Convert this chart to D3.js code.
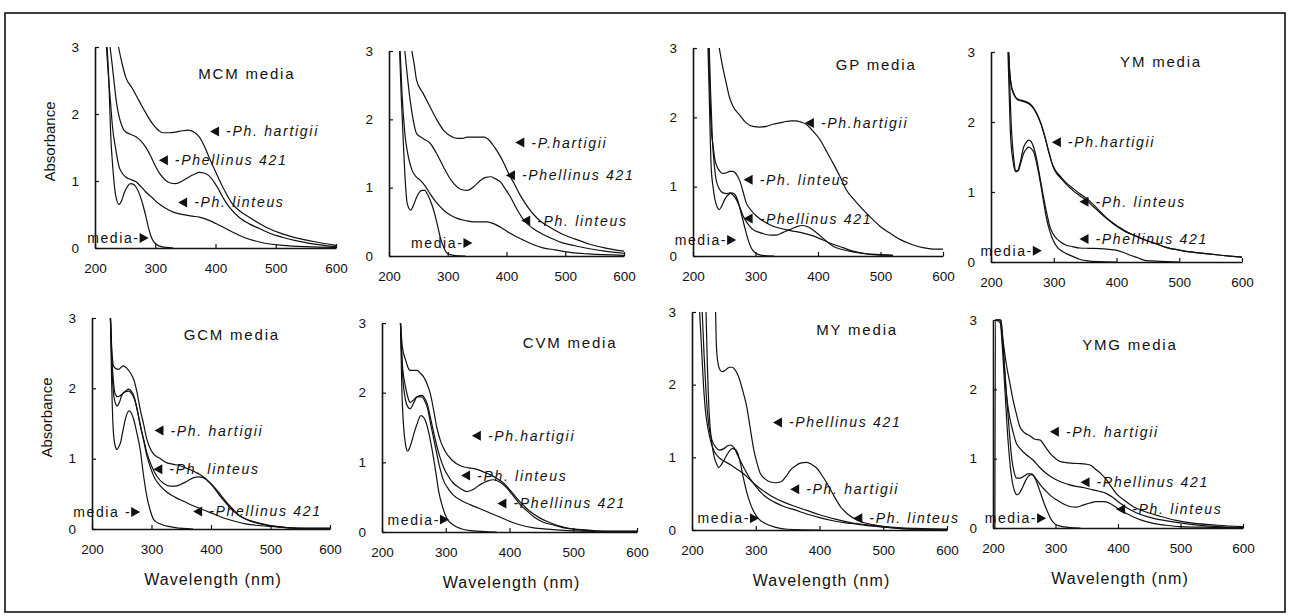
<!DOCTYPE html>
<html>
<head>
<meta charset="utf-8">
<script src="https://cdn.jsdelivr.net/npm/d3@7"></script>
<style>
  html, body { margin: 0; padding: 0; background: #fff; }
  svg { display: block; }
</style>
</head>
<body>
<svg id="chart" width="1290" height="616"></svg>
<script>
// Absorbance spectra of culture filtrates, [wavelength nm, absorbance]
const xTicks = [200, 300, 400, 500, 600];
const yTicks = [0, 1, 2, 3];

// MCM media
const mcmHartigii = [[239,3],[245,2.75],[251,2.55],[262,2.38],[273,2.2],[284,2.02],[295,1.86],[305,1.76],[312,1.72],[322,1.72],[334,1.73],[345,1.75],[356,1.76],[366,1.72],[373,1.66],[381,1.53],[389,1.36],[400,1.14],[412,0.91],[428,0.66],[442,0.54],[456,0.46],[470,0.38],[484,0.31],[511,0.21],[539,0.14],[567,0.09],[600,0.04]];
const mcmP421 = [[225,3],[229,2.7],[232,2.45],[236,2.15],[240,1.96],[244,1.84],[248,1.76],[258,1.7],[268,1.66],[276,1.6],[284,1.51],[292,1.38],[301,1.21],[309,1.09],[317,1.01],[325,0.97],[334,0.96],[345,1.0],[356,1.06],[365,1.1],[373,1.13],[381,1.12],[389,1.08],[398,0.98],[406,0.86],[414,0.73],[423,0.61],[439,0.46],[456,0.36],[473,0.29],[490,0.22],[511,0.16],[533,0.11],[556,0.07],[600,0.02]];
const mcmLinteus = [[219,3],[222,2.6],[226,2.15],[229,1.81],[234,1.5],[240,1.21],[245,1.12],[251,1.06],[260,1.02],[268,0.99],[276,0.92],[284,0.84],[295,0.75],[306,0.66],[318,0.59],[329,0.54],[340,0.51],[351,0.49],[362,0.475],[373,0.46],[384,0.43],[395,0.39],[406,0.34],[417,0.29],[428,0.24],[439,0.19],[456,0.13],[473,0.09],[490,0.06],[511,0.04],[550,0.02],[600,0.01]];
const mcmMedia = [[220,3],[223,2.5],[226,1.7],[230,1.15],[234,0.8],[240,0.65],[244,0.7],[248,0.81],[254,0.92],[259,0.96],[264,0.95],[268,0.91],[274,0.8],[279,0.66],[285,0.45],[290,0.26],[295,0.13],[301,0.06],[310,0.02],[330,0.0]];

// second panel (untitled)
const p2Hartigii = [[239,3],[243,2.8],[247,2.57],[258,2.38],[270,2.18],[281,2.0],[293,1.84],[304,1.76],[316,1.72],[325,1.72],[333,1.74],[345,1.74],[362,1.74],[371,1.69],[379,1.6],[388,1.48],[396,1.35],[404,1.2],[413,1.06],[424,0.88],[436,0.72],[447,0.6],[459,0.5],[476,0.41],[493,0.33],[516,0.25],[539,0.18],[567,0.12],[600,0.07]];
const p2P421 = [[227,3],[231,2.65],[236,2.28],[241,2.0],[247,1.79],[258,1.72],[270,1.65],[281,1.5],[293,1.3],[304,1.13],[316,1.01],[324,0.97],[333,0.96],[345,1.02],[356,1.11],[365,1.15],[373,1.16],[381,1.13],[390,1.08],[398,0.98],[407,0.86],[418,0.68],[430,0.52],[444,0.41],[459,0.33],[476,0.26],[493,0.2],[516,0.15],[539,0.11],[567,0.07],[600,0.04]];
const p2Linteus = [[219,3],[222,2.4],[227,1.79],[233,1.45],[239,1.26],[246,1.16],[253,1.11],[262,1.02],[270,0.91],[281,0.78],[293,0.67],[304,0.6],[316,0.55],[330,0.52],[345,0.5],[356,0.5],[367,0.5],[379,0.47],[390,0.42],[401,0.36],[413,0.3],[427,0.24],[442,0.18],[462,0.12],[482,0.09],[510,0.05],[539,0.03],[600,0.01]];
const p2Media = [[218,3],[221,2.3],[225,1.55],[228,1.05],[231,0.77],[237,0.67],[242,0.75],[247,0.86],[256,0.96],[261,0.96],[265,0.91],[270,0.82],[276,0.67],[282,0.47],[287,0.28],[293,0.13],[299,0.04],[310,0.01],[330,0]];

// GP media
const gpHartigii = [[242,3],[247,2.75],[253,2.5],[258,2.3],[264,2.16],[275,2.03],[285,1.92],[296,1.87],[307,1.86],[317,1.87],[328,1.9],[339,1.92],[349,1.94],[357,1.95],[365,1.95],[373,1.93],[381,1.9],[392,1.8],[403,1.68],[413,1.52],[424,1.34],[435,1.15],[445,0.96],[459,0.8],[472,0.67],[485,0.55],[499,0.43],[515,0.33],[531,0.24],[549,0.17],[568,0.12],[584,0.1],[600,0.1]];
const gpLinteus = [[225,3],[227,2.4],[229,1.87],[232,1.6],[235,1.39],[239,1.28],[243,1.22],[248,1.19],[253,1.2],[259,1.22],[264,1.22],[270,1.17],[275,1.08],[280,0.93],[285,0.77],[293,0.66],[301,0.58],[315,0.49],[328,0.43],[344,0.39],[360,0.36],[376,0.33],[392,0.29],[408,0.23],[424,0.17],[440,0.12],[456,0.07],[472,0.04],[488,0.02],[520,0.01]];
const gpP421 = [[226,3],[228,2.4],[231,1.68],[234,1.32],[237,1.1],[242,0.97],[248,0.91],[254,0.9],[259,0.91],[264,0.88],[269,0.82],[275,0.7],[280,0.58],[288,0.46],[296,0.38],[306,0.34],[317,0.31],[325,0.3],[333,0.3],[344,0.34],[355,0.38],[365,0.42],[376,0.44],[386,0.41],[397,0.34],[410,0.24],[424,0.14],[440,0.09],[456,0.06],[478,0.03],[499,0.02],[520,0.01]];
const gpMedia = [[224,3],[226,2.3],[229,1.3],[232,1.0],[235,0.82],[239,0.7],[242,0.67],[246,0.72],[251,0.82],[256,0.88],[261,0.91],[265,0.9],[269,0.86],[273,0.76],[277,0.62],[282,0.44],[288,0.24],[293,0.12],[299,0.05],[310,0.01],[330,0]];

// YM media
const ymHartigii = [[228,3],[230,2.7],[233,2.5],[236,2.42],[239,2.36],[244,2.32],[249,2.31],[256,2.29],[262,2.26],[268,2.2],[273,2.12],[280,1.97],[286,1.79],[292,1.58],[299,1.36],[305,1.26],[310,1.21],[320,1.11],[331,1.02],[341,0.95],[352,0.88],[362,0.8],[373,0.71],[383,0.63],[394,0.55],[404,0.49],[415,0.43],[431,0.37],[447,0.31],[463,0.26],[479,0.21],[500,0.17],[521,0.14],[542,0.12],[563,0.1],[580,0.085],[600,0.07]];
const ymLinteus = [[228,3],[230,2.68],[233,2.48],[236,2.4],[239,2.35],[244,2.31],[249,2.3],[256,2.28],[262,2.25],[268,2.19],[273,2.11],[280,1.96],[286,1.78],[292,1.57],[299,1.37],[305,1.28],[310,1.23],[320,1.13],[331,1.05],[341,0.98],[352,0.91],[362,0.83],[373,0.73],[383,0.64],[394,0.56],[404,0.5],[415,0.44],[431,0.37],[447,0.31],[463,0.26],[479,0.21],[500,0.17],[521,0.14],[542,0.12],[563,0.1],[580,0.085],[600,0.07]];
const ymP421 = [[228,3],[230,2.5],[233,1.83],[236,1.5],[239,1.31],[242,1.3],[246,1.4],[252,1.64],[256,1.71],[260,1.74],[264,1.72],[268,1.64],[273,1.46],[278,1.21],[283,0.96],[289,0.69],[294,0.5],[299,0.4],[305,0.33],[312,0.28],[320,0.24],[330,0.22],[341,0.2],[357,0.195],[373,0.19],[388,0.18],[399,0.17],[410,0.14],[421,0.1],[434,0.06],[447,0.02],[470,0.01],[500,0]];
const ymMedia = [[227,3],[229,2.4],[231,1.83],[235,1.45],[239,1.29],[243,1.3],[248,1.43],[252,1.55],[256,1.61],[260,1.64],[264,1.62],[268,1.57],[273,1.4],[278,1.17],[283,0.9],[289,0.6],[294,0.43],[299,0.31],[305,0.22],[312,0.16],[320,0.12],[330,0.08],[341,0.04],[352,0.02],[370,0.005],[400,0]];

// GCM media
const gcmHartigii = [[231,3],[233,2.6],[236,2.32],[240,2.28],[245,2.27],[249,2.3],[253,2.32],[258,2.29],[262,2.25],[266,2.2],[270,2.13],[276,1.93],[281,1.7],[287,1.48],[292,1.28],[298,1.14],[304,1.06],[315,1.0],[326,0.94],[337,0.92],[348,0.9],[360,0.86],[371,0.82],[382,0.77],[393,0.7],[404,0.6],[415,0.47],[427,0.35],[438,0.25],[452,0.17],[466,0.11],[485,0.07],[505,0.04],[530,0.02],[550,0.01],[600,0.01]];
const gcmLinteus = [[231,3],[233,2.4],[236,1.94],[239,1.8],[242,1.75],[246,1.8],[250,1.9],[256,1.96],[262,1.99],[266,1.96],[270,1.9],[276,1.7],[281,1.47],[287,1.27],[292,1.09],[300,0.9],[309,0.75],[320,0.65],[331,0.61],[340,0.61],[348,0.63],[360,0.68],[371,0.73],[379,0.74],[387,0.73],[395,0.68],[404,0.61],[415,0.5],[427,0.37],[438,0.27],[449,0.18],[466,0.12],[483,0.08],[505,0.04],[527,0.02],[560,0.01],[600,0.01]];
const gcmP421 = [[231,3],[233,2.5],[236,2.1],[239,1.92],[243,1.88],[248,1.9],[254,1.94],[262,1.96],[267,1.92],[272,1.83],[277,1.65],[282,1.45],[287,1.25],[292,1.05],[298,0.88],[305,0.73],[314,0.62],[325,0.53],[340,0.45],[355,0.39],[370,0.33],[385,0.28],[400,0.23],[420,0.16],[440,0.11],[460,0.07],[480,0.05],[510,0.03],[550,0.01],[600,0.01]];
const gcmMedia = [[231,3],[233,2.1],[236,1.37],[239,1.18],[242,1.13],[245,1.17],[248,1.23],[252,1.4],[256,1.56],[262,1.68],[266,1.65],[270,1.56],[275,1.38],[281,1.13],[286,0.8],[292,0.47],[298,0.26],[304,0.13],[315,0.07],[326,0.04],[340,0.02],[370,0.0]];

// CVM media
const cvmHartigii = [[229,3],[232,2.65],[237,2.47],[240,2.38],[244,2.32],[250,2.32],[255,2.32],[260,2.28],[265,2.23],[271,2.12],[276,1.98],[281,1.75],[286,1.5],[292,1.3],[299,1.16],[310,1.03],[323,0.95],[336,0.92],[349,0.9],[360,0.86],[370,0.82],[380,0.77],[391,0.7],[401,0.6],[412,0.48],[422,0.38],[433,0.29],[446,0.21],[459,0.15],[477,0.09],[495,0.05],[520,0.03],[550,0.01],[600,0.01]];
const cvmLinteus = [[229,3],[232,2.3],[237,1.89],[241,1.79],[244,1.77],[250,1.86],[255,1.94],[263,1.96],[267,1.92],[271,1.84],[277,1.6],[284,1.31],[290,1.1],[297,0.92],[304,0.8],[312,0.7],[322,0.63],[333,0.58],[343,0.61],[354,0.68],[365,0.73],[375,0.75],[386,0.71],[396,0.63],[406,0.52],[417,0.39],[428,0.3],[438,0.22],[453,0.14],[469,0.1],[490,0.05],[511,0.03],[540,0.01],[600,0.01]];
const cvmP421 = [[229,3],[232,2.4],[237,2.08],[241,1.92],[244,1.86],[250,1.9],[255,1.94],[263,1.94],[267,1.88],[271,1.79],[277,1.52],[284,1.21],[290,0.95],[297,0.73],[304,0.62],[312,0.53],[325,0.45],[339,0.39],[352,0.34],[365,0.29],[378,0.24],[391,0.19],[404,0.14],[417,0.1],[438,0.06],[459,0.04],[490,0.02],[530,0.01],[600,0.01]];
const cvmMedia = [[229,3],[231,2.1],[234,1.5],[237,1.25],[240,1.16],[243,1.2],[247,1.31],[251,1.44],[255,1.55],[261,1.67],[265,1.65],[268,1.6],[273,1.44],[278,1.21],[284,0.88],[289,0.58],[295,0.36],[302,0.19],[312,0.1],[323,0.05],[340,0.02],[380,0.0]];

// MY media
const myP421 = [[237,3],[238,2.6],[240,2.34],[243,2.22],[247,2.18],[251,2.19],[255,2.22],[259,2.24],[263,2.24],[267,2.21],[271,2.15],[275,2.06],[278,1.97],[282,1.84],[286,1.69],[291,1.42],[297,1.1],[302,0.92],[307,0.78],[315,0.7],[323,0.66],[331,0.65],[339,0.66],[347,0.73],[354,0.82],[362,0.88],[370,0.92],[380,0.93],[388,0.9],[396,0.85],[404,0.75],[412,0.64],[422,0.48],[433,0.32],[444,0.22],[454,0.16],[470,0.1],[485,0.07],[505,0.04],[527,0.02],[560,0.01],[600,0.01]];
const myHartigii = [[216,3],[219,2.4],[222,1.9],[225,1.55],[228,1.35],[232,1.22],[237,1.14],[243,1.1],[250,1.12],[256,1.16],[261,1.17],[266,1.13],[271,1.04],[276,0.95],[283,0.83],[290,0.72],[300,0.6],[310,0.5],[320,0.43],[330,0.38],[345,0.32],[360,0.28],[380,0.22],[400,0.17],[425,0.12],[450,0.09],[475,0.06],[500,0.04],[530,0.02],[560,0.01],[600,0.01]];
const myLinteus = [[212,3],[215,2.5],[218,2.0],[221,1.65],[225,1.4],[230,1.2],[235,1.08],[242,1.0],[250,0.95],[260,0.9],[270,0.84],[280,0.78],[290,0.7],[300,0.62],[315,0.52],[330,0.44],[345,0.38],[360,0.33],[380,0.27],[400,0.21],[425,0.15],[450,0.1],[475,0.07],[500,0.05],[530,0.03],[560,0.02],[600,0.01]];
const myMedia = [[222,3],[224,2.3],[227,1.6],[231,1.2],[235,1.0],[239,0.9],[242,0.86],[246,0.9],[252,0.99],[258,1.08],[263,1.12],[268,1.11],[272,1.05],[276,0.92],[280,0.74],[285,0.55],[290,0.4],[297,0.25],[305,0.15],[315,0.09],[330,0.04],[350,0.01],[400,0]];

// YMG media
const ymgHartigii = [[204,3],[212,3],[216,2.71],[221,2.38],[227,2.09],[232,1.85],[237,1.66],[243,1.46],[251,1.37],[259,1.33],[267,1.28],[275,1.27],[283,1.18],[291,1.08],[299,1.01],[307,0.96],[320,0.94],[335,0.93],[349,0.92],[357,0.9],[365,0.84],[373,0.78],[381,0.7],[389,0.6],[397,0.5],[410,0.4],[424,0.31],[445,0.23],[467,0.17],[493,0.11],[520,0.07],[560,0.04],[600,0.02]];
const ymgP421 = [[204,3],[213,3],[217,2.5],[221,1.97],[226,1.63],[232,1.39],[237,1.23],[243,1.15],[253,1.06],[264,0.98],[274,0.88],[285,0.79],[296,0.72],[307,0.67],[320,0.63],[333,0.6],[346,0.58],[360,0.55],[370,0.53],[381,0.5],[392,0.44],[403,0.36],[416,0.28],[429,0.22],[448,0.16],[467,0.12],[493,0.08],[520,0.05],[560,0.02],[600,0.01]];
const ymgLinteus = [[205,3],[212,2.95],[217,2.5],[221,2.0],[226,1.4],[230,1.0],[234,0.8],[238,0.72],[244,0.72],[250,0.75],[256,0.78],[262,0.78],[268,0.72],[276,0.62],[285,0.53],[293,0.46],[301,0.41],[312,0.35],[323,0.31],[333,0.3],[344,0.33],[355,0.36],[365,0.38],[378,0.38],[390,0.34],[403,0.26],[418,0.19],[435,0.12],[455,0.07],[477,0.04],[500,0.02],[550,0.01],[600,0.0]];
const ymgMedia = [[203,0],[204,3],[211,3],[215,2.6],[219,2.0],[223,1.4],[227,0.95],[231,0.66],[235,0.52],[238,0.48],[242,0.5],[247,0.58],[252,0.68],[257,0.75],[262,0.77],[267,0.72],[272,0.61],[277,0.48],[282,0.35],[288,0.22],[294,0.11],[299,0.06],[306,0.03],[320,0.01],[340,0]];

// curve labels: [text, wavelength, absorbance] at the arrow tip
const mcmNotes = [["-Ph. hartigii",391,1.74],["-Phellinus 421",306,1.31],["-Ph. linteus",338,0.68]];
const p2Notes = [["-P.hartigii",415,1.66],["-Phellinus 421",399,1.18],["-Ph. linteus",425,0.52]];
const gpNotes = [["-Ph.hartigii",379,1.92],["-Ph. linteus",281,1.1],["-Phellinus 421",281,0.54]];
const ymNotes = [["-Ph.hartigii",297,1.71],["-Ph. linteus",341,0.86],["-Phellinus 421",341,0.33]];
const gcmNotes = [["-Ph. hartigii",305,1.4],["-Ph. linteus",303,0.85],["-Phellinus 421",370,0.25]];
const cvmNotes = [["-Ph.hartigii",341,1.38],["-Ph. linteus",324,0.81],["-Phellinus 421",381,0.41]];
const myNotes = [["-Phellinus 421",327,1.48],["-Ph. hartigii",354,0.56],["-Ph. linteus",453,0.16]];
const ymgNotes = [["-Ph. hartigii",291,1.39],["-Phellinus 421",340,0.66],["-Ph. linteus",397,0.27]];

// media label: [text, wavelength, absorbance] at the arrow tip
const mediaNotes = [["media-",289,0.15],["media-",342,0.19],["media-",269,0.23],["media-",281,0.16],
                    ["media -",281,0.24],["media-",305,0.18],["media-",305,0.16],["media-",285,0.14]];

const titles = ["MCM media", "", "GP media", "YM media", "GCM media", "CVM media", "MY media", "YMG media"];
// title anchor positions in data units
const titleAt = [[452,2.6],null,[493,2.76],[471,2.86],[435,2.76],[495,2.72],[459,2.75],[419,2.64]];

const seriesByPanel = [
  [mcmHartigii, mcmP421, mcmLinteus, mcmMedia],
  [p2Hartigii, p2P421, p2Linteus, p2Media],
  [gpHartigii, gpLinteus, gpP421, gpMedia],
  [ymHartigii, ymLinteus, ymP421, ymMedia],
  [gcmHartigii, gcmLinteus, gcmP421, gcmMedia],
  [cvmHartigii, cvmLinteus, cvmP421, cvmMedia],
  [myP421, myHartigii, myLinteus, myMedia],
  [ymgHartigii, ymgP421, ymgLinteus, ymgMedia]
];
const notesByPanel = [mcmNotes, p2Notes, gpNotes, ymNotes, gcmNotes, cvmNotes, myNotes, ymgNotes];

// plot boxes in pixels: left (200 nm), right (600 nm), bottom (A=0), top (A=3)
const boxes = [
  {l: 95,  r: 336,  b: 248, t: 47},
  {l: 389, r: 624,  b: 256, t: 51},
  {l: 693, r: 943,  b: 256, t: 48},
  {l: 991, r: 1242, b: 262, t: 52},
  {l: 92,  r: 330,  b: 529, t: 318},
  {l: 382, r: 637,  b: 532, t: 323},
  {l: 692, r: 947,  b: 530, t: 312},
  {l: 993, r: 1243, b: 528, t: 320}
];

const FONT = "'Liberation Sans', Arial, Helvetica, sans-serif";
const svg = d3.select("#chart");

// outer frame
svg.append("rect")
  .attr("x", 5).attr("y", 13).attr("width", 1280).attr("height", 599)
  .attr("fill", "none").attr("stroke", "#111").attr("stroke-width", 1.6);

const line = d3.line().curve(d3.curveMonotoneX);

boxes.forEach((bx, i) => {
  const x = d3.scaleLinear().domain([200, 600]).range([bx.l, bx.r]);
  const y = d3.scaleLinear().domain([0, 3]).range([bx.b, bx.t]);
  const g = svg.append("g");

  // axes
  const xa = g.append("g").attr("transform", `translate(0,${bx.b})`)
    .call(d3.axisBottom(x).tickValues(xTicks).tickFormat(d3.format("d"))
      .tickSizeInner(-4).tickSizeOuter(0).tickPadding(15));
  const ya = g.append("g").attr("transform", `translate(${bx.l},0)`)
    .call(d3.axisLeft(y).tickValues(yTicks).tickFormat(d3.format("d"))
      .tickSizeInner(-4).tickSizeOuter(0).tickPadding(16));
  [xa, ya].forEach(a => {
    a.select(".domain").attr("stroke", "#111").attr("stroke-width", 1.6);
    a.selectAll(".tick line").attr("stroke", "#111").attr("stroke-width", 1.2);
    a.selectAll("text").attr("font-family", FONT).attr("font-size", 13.5).attr("fill", "#111");
  });

  // spectra
  g.selectAll("path.spec").data(seriesByPanel[i]).enter().append("path")
    .attr("class", "spec")
    .attr("d", d => line(d.map(p => [x(p[0]), y(p[1])])))
    .attr("fill", "none").attr("stroke", "#111").attr("stroke-width", 1.2)
    .attr("stroke-linejoin", "round");

  // title
  if (titles[i]) {
    g.append("text")
      .attr("x", x(titleAt[i][0])).attr("y", y(titleAt[i][1])).attr("dy", "0.35em")
      .attr("text-anchor", "middle")
      .attr("font-family", FONT).attr("font-size", 15).attr("letter-spacing", "1.8px")
      .attr("fill", "#111").text(titles[i]);
  }

  // curve labels with left-pointing arrows
  notesByPanel[i].forEach(n => {
    const tx = x(n[1]), ty = y(n[2]);
    g.append("path")
      .attr("d", `M${tx},${ty}L${tx + 9},${ty - 5}L${tx + 9},${ty + 5}Z`)
      .attr("fill", "#111");
    g.append("text")
      .attr("x", tx + 16).attr("y", ty).attr("dy", "0.36em")
      .attr("font-family", FONT).attr("font-size", 14).attr("font-style", "italic")
      .attr("letter-spacing", "1.7px").attr("fill", "#111").text(n[0]);
  });

  // media label with right-pointing arrow
  const m = mediaNotes[i];
  const mx = x(m[1]), my = y(m[2]);
  g.append("path")
    .attr("d", `M${mx},${my}L${mx - 9},${my - 5}L${mx - 9},${my + 5}Z`)
    .attr("fill", "#111");
  g.append("text")
    .attr("x", mx - 9).attr("y", my).attr("dy", "0.36em")
    .attr("text-anchor", "end")
    .attr("font-family", FONT).attr("font-size", 14).attr("letter-spacing", "1.6px")
    .attr("fill", "#111").text(m[0]);

  // axis titles: y on the first column, x on the bottom row
  if (i === 0 || i === 4) {
    g.append("text")
      .attr("transform", `translate(${bx.l - 45},${(bx.t + bx.b) / 2 - 6}) rotate(-90)`)
      .attr("text-anchor", "middle").attr("dy", "0.35em")
      .attr("font-family", FONT).attr("font-size", 15).attr("fill", "#111")
      .text("Absorbance");
  }
  if (i >= 4) {
    g.append("text")
      .attr("x", (bx.l + bx.r) / 2 + 2).attr("y", bx.b + 56)
      .attr("text-anchor", "middle")
      .attr("font-family", FONT).attr("font-size", 16).attr("letter-spacing", "1.1px")
      .attr("fill", "#111").text("Wavelength (nm)");
  }
});
</script>
</body>
</html>
